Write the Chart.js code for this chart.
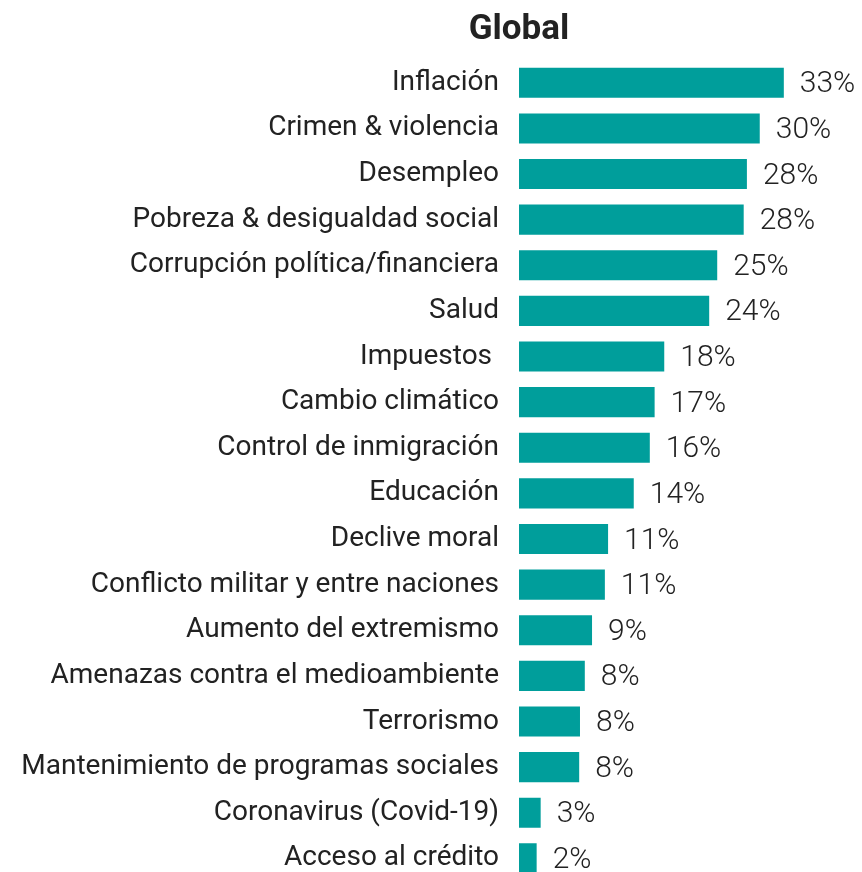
<!DOCTYPE html>
<html>
<head>
<meta charset="utf-8">
<script src="https://cdn.jsdelivr.net/npm/chart.js@4.4.0/dist/chart.umd.min.js"></script>
<style>
  html, body { margin: 0; padding: 0; background: #fff; overflow: hidden; }
  #wrap { width: 862px; height: 918px; }
</style>
</head>
<body>
<div id="wrap"><canvas id="myChart"></canvas></div>
<script>
const title = "Global";

const categories = [
  "Inflación",
  "Crimen & violencia",
  "Desempleo",
  "Pobreza & desigualdad social",
  "Corrupción política/financiera",
  "Salud",
  "Impuestos ",
  "Cambio climático",
  "Control de inmigración",
  "Educación",
  "Declive moral",
  "Conflicto militar y entre naciones",
  "Aumento del extremismo",
  "Amenazas contra el medioambiente",
  "Terrorismo",
  "Mantenimiento de programas sociales",
  "Coronavirus (Covid-19)",
  "Acceso al crédito",
];

const values = [33.0, 30.0, 28.4, 28.0, 24.7, 23.7, 18.1, 16.9, 16.3, 14.3, 11.1, 10.7, 9.1, 8.2, 7.6, 7.5, 2.7, 2.2];

const barColor = "#009e9b";
const textColor = "#222222";

// value labels to the right of each bar (no datalabels plugin offline)
const valueLabels = {
  id: "valueLabels",
  afterDatasetsDraw(chart) {
    const ctx = chart.ctx;
    const meta = chart.getDatasetMeta(0);
    ctx.save();
    ctx.font = "300 30px Roboto";
    ctx.fillStyle = textColor;
    ctx.textAlign = "left";
    ctx.textBaseline = "middle";
    meta.data.forEach((bar, i) => {
      ctx.fillText(Math.round(values[i]) + "%", bar.x + 16, bar.y + 2);
    });
    ctx.restore();
  },
};

// title centred on the bars' left edge
const leftTitle = {
  id: "leftTitle",
  afterDraw(chart) {
    const ctx = chart.ctx;
    ctx.save();
    ctx.font = "bold 35px Roboto";
    ctx.fillStyle = textColor;
    ctx.textAlign = "center";
    ctx.textBaseline = "alphabetic";
    ctx.fillText(title, chart.chartArea.left, 39);
    ctx.restore();
  },
};

const data = {
  labels: categories,
  datasets: [
    {
      data: values,
      backgroundColor: barColor,
      borderWidth: 0,
      barPercentage: 0.66,
      categoryPercentage: 1,
    },
  ],
};

const config = {
  type: "bar",
  data: data,
  plugins: [valueLabels, leftTitle],
  options: {
    indexAxis: "y",
    responsive: true,
    maintainAspectRatio: false,
    animation: false,
    layout: {
      padding: { top: 60, right: 22, bottom: 0, left: 0 },
    },
    plugins: {
      legend: { display: false },
      tooltip: { enabled: false },
    },
    scales: {
      x: {
        display: false,
        min: 0,
        max: 40,
      },
      y: {
        border: { display: false },
        grid: { display: false, drawTicks: false },
        afterFit(scale) {
          scale.width = 519;
        },
        ticks: {
          padding: 20,
          color: textColor,
          font: { family: "Roboto", size: 28 },
        },
      },
    },
  },
};

const myChart = new Chart(
  document.getElementById("myChart").getContext("2d"),
  config
);
</script>
</body>
</html>
